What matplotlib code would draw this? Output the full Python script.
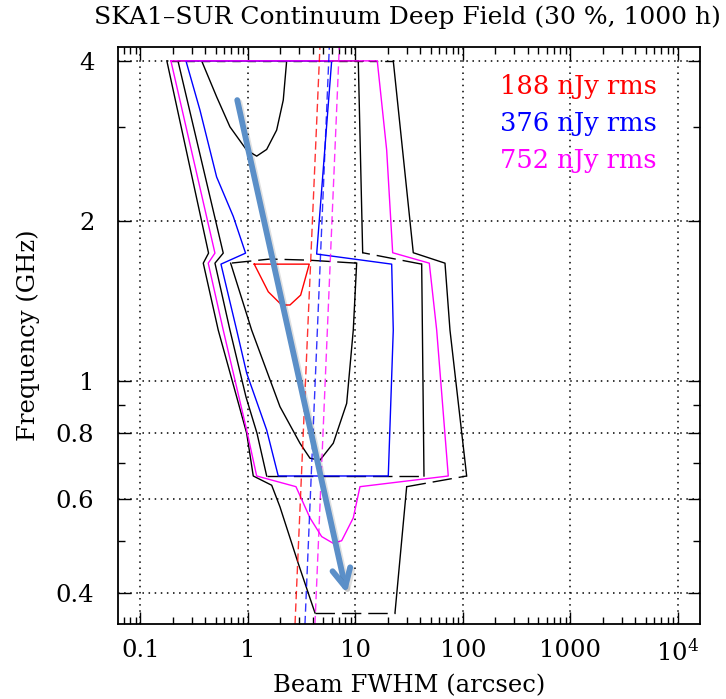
import matplotlib
matplotlib.use("Agg")
import matplotlib.pyplot as plt
import matplotlib.patheffects as pe
from matplotlib.ticker import FixedLocator, FixedFormatter, LogLocator, NullFormatter

plt.rcParams['font.family'] = 'DejaVu Serif'
plt.rcParams['mathtext.fontset'] = 'dejavuserif'

# ---- data: contours (beam FWHM arcsec, frequency GHz) ----
# outer black contour, split into solid and dashed pieces
outer_solid1_x = [23.31, 29.94]
outer_solid1_y = [0.3665, 0.633]
outer_dash1_x = [29.94, 108.2]
outer_dash1_y = [0.633, 0.663]
outer_solid2_x = [108.2, 75.68, 68.02, 34.49, 22.47]
outer_solid2_y = [0.663, 1.247, 1.666, 1.743, 4.0]
outer_top_x = [22.47, 0.176]
outer_top_y = [4.0, 4.0]
outer_solid3_x = [0.176, 0.43, 0.384, 0.529, 0.785, 0.9725, 1.12, 1.662, 1.985,
                  2.937, 4.201]
outer_solid3_y = [4.0, 1.74, 1.666, 1.247, 0.934, 0.798, 0.663, 0.637, 0.580,
                  0.454, 0.3665]
outer_dash2_x = [4.201, 23.31]
outer_dash2_y = [0.3665, 0.3665]

# second black contour
black2_solid1_x = [10.62, 0.2233, 0.589, 0.4932, 0.680, 0.958, 1.213, 1.493]
black2_solid1_y = [4.0, 4.0, 1.740, 1.666, 1.247, 0.934, 0.798, 0.663]
black2_dash1_x = [1.493, 43.38]
black2_dash1_y = [0.663, 0.663]
black2_solid2_x = [43.38, 41.29]
black2_solid2_y = [0.663, 1.659]
black2_dash2_x = [41.29, 11.67]
black2_dash2_y = [1.659, 1.743]
black2_solid3_x = [11.67, 10.62]
black2_solid3_y = [1.743, 4.0]

# inner black contours
innerA_x = [0.3709, 0.5114, 0.680, 0.9725, 1.205, 1.493, 1.849, 2.13, 2.291]
innerA_y = [4.0, 3.423, 3.006, 2.718, 2.648, 2.726, 2.964, 3.375, 4.0]
innerB_x = [0.6902, 1.082, 1.985, 3.045, 3.774, 4.674, 6.216, 8.284, 9.539, 10.26]
innerB_y = [1.666, 1.247, 0.895, 0.764, 0.716, 0.710, 0.764, 0.908, 1.247, 1.666]
innerB_top_x = [10.26, 3.639, 1.602, 0.6902]
innerB_top_y = [1.666, 1.688, 1.696, 1.666]

# 376 nJy (blue) contour
blue_x = [0.265, 0.358, 0.511, 0.73, 0.95, 0.561, 0.785, 0.9725, 1.493, 1.913,
          20.19, 22.47, 21.72, 4.356, 6.006, 0.265]
blue_y = [4.0, 3.23, 2.42, 2.04, 1.74, 1.659, 1.247, 1.035, 0.809, 0.663,
          0.663, 1.247, 1.659, 1.733, 4.0, 4.0]

# 752 nJy (magenta) contour
mag_x = [0.192, 0.493, 0.427, 0.589, 0.9725, 1.205, 2.796, 3.774, 4.848, 6.216,
         7.44, 9.539, 11.01, 72.97, 56.93, 48.6, 22.18, 19.51, 15.95, 0.192]
mag_y = [4.0, 1.74, 1.666, 1.247, 0.809, 0.663, 0.633, 0.553, 0.510, 0.4953,
         0.501, 0.553, 0.633, 0.663, 1.247, 1.666, 1.743, 2.718, 4.0, 4.0]

# 188 nJy (red) contour
red_x = [1.144, 3.717, 3.092, 2.459, 2.058, 1.545, 1.144]
red_y = [1.659, 1.659, 1.451, 1.390, 1.390, 1.472, 1.659]

# dashed reference lines
dash_freq = [0.349, 4.244]
red_dash = [2.74, 4.67]
blue_dash = [3.39, 5.71]
mag_dash = [4.20, 7.07]

# arrow
arrow_start = (0.795, 3.375)
arrow_end = (8.284, 0.399)

legend_labels = ['188 nJy rms', '376 nJy rms', '752 nJy rms']
legend_colors = ['red', 'blue', 'magenta']

x_major = [0.1, 1, 10, 100, 1000, 1e4]
x_labels = ['0.1', '1', '10', '100', '1000', '$10^4$']
y_major = [0.4, 0.6, 0.8, 1, 2, 4]
y_labels = ['0.4', '0.6', '0.8', '1', '2', '4']
y_minor = [0.5, 0.7, 0.9, 3]

# ---- figure ----
fig = plt.figure(figsize=(7.26, 6.99), dpi=100)
ax = fig.add_axes([0.1625, 0.107, 0.8017, 0.8255])
ax.set_xscale('log')
ax.set_yscale('log')

lw = 1.0
dsh = (14, 5)

ax.plot(outer_solid1_x, outer_solid1_y, color='black', lw=lw)
ax.plot(outer_dash1_x, outer_dash1_y, color='black', lw=lw, dashes=dsh)
ax.plot(outer_solid2_x, outer_solid2_y, color='black', lw=lw)
ax.plot(outer_top_x, outer_top_y, color='black', lw=lw, dashes=(6, 5))
ax.plot(outer_solid3_x, outer_solid3_y, color='black', lw=lw)
ax.plot(outer_dash2_x, outer_dash2_y, color='black', lw=lw, dashes=dsh)

ax.plot(black2_solid1_x, black2_solid1_y, color='black', lw=lw)
ax.plot(black2_dash1_x, black2_dash1_y, color='black', lw=lw, dashes=dsh)
ax.plot(black2_solid2_x, black2_solid2_y, color='black', lw=lw)
ax.plot(black2_dash2_x, black2_dash2_y, color='black', lw=lw, dashes=dsh)
ax.plot(black2_solid3_x, black2_solid3_y, color='black', lw=lw)

ax.plot(innerA_x, innerA_y, color='black', lw=lw)
ax.plot(innerB_x, innerB_y, color='black', lw=lw)
ax.plot(innerB_top_x, innerB_top_y, color='black', lw=lw, dashes=dsh)

ax.plot(blue_x, blue_y, color='blue', lw=lw)
ax.plot(mag_x, mag_y, color='magenta', lw=lw)
ax.plot(red_x, red_y, color='red', lw=lw)

ax.plot(red_dash, dash_freq, color='red', lw=lw, dashes=(6, 3), alpha=0.8)
ax.plot(blue_dash, dash_freq, color='blue', lw=lw, dashes=(6, 3), alpha=0.8)
ax.plot(mag_dash, dash_freq, color='magenta', lw=lw, dashes=(6, 3), alpha=0.8)

ax.annotate('', xy=arrow_end, xytext=arrow_start,
            arrowprops=dict(arrowstyle='->, head_length=1.3, head_width=0.65',
                            color='#5b8fc8', lw=4.2, shrinkA=0, shrinkB=0,
                            mutation_scale=10,
                            path_effects=[pe.SimpleLineShadow(offset=(1.5, -1.5), alpha=0.12),
                                          pe.Normal()]))

for i, (lab, col) in enumerate(zip(legend_labels, legend_colors)):
    ax.text(0.656, 0.931 - i * 0.0635, lab, color=col, fontsize=18.5,
            transform=ax.transAxes, va='center', ha='left')

ax.set_xlim(0.0618, 16020)
ax.set_ylim(0.349, 4.244)

ax.xaxis.set_major_locator(FixedLocator(x_major))
ax.xaxis.set_major_formatter(FixedFormatter(x_labels))
ax.xaxis.set_minor_locator(LogLocator(base=10, subs=range(2, 10)))
ax.xaxis.set_minor_formatter(NullFormatter())
ax.yaxis.set_major_locator(FixedLocator(y_major))
ax.yaxis.set_major_formatter(FixedFormatter(y_labels))
ax.yaxis.set_minor_locator(FixedLocator(y_minor))
ax.yaxis.set_minor_formatter(NullFormatter())

ax.tick_params(which='both', direction='in', top=True, right=True, labelsize=17.5)
ax.tick_params(which='major', length=9, width=1)
ax.tick_params(which='minor', length=5, width=1)
ax.tick_params(axis='x', which='major', pad=11)
ax.tick_params(axis='y', which='major', pad=17)
for s in ax.spines.values():
    s.set_linewidth(1.3)

ax.grid(True, which='major', color='black', linestyle=(0, (1, 3)), lw=1.1)

ax.set_xlabel('Beam FWHM (arcsec)', fontsize=17.5)
ax.xaxis.set_label_coords(0.5, -0.106)
ax.xaxis.label.set_verticalalignment('center')
ax.set_ylabel('Frequency (GHz)', fontsize=17.5)
ax.yaxis.set_label_coords(-0.155, 0.5)
ax.yaxis.label.set_verticalalignment('center')

fig.text(407 / 726, 1 - 17 / 699, 'SKA1\u2013SUR Continuum Deep Field (30 %, 1000 h)',
         fontsize=18, ha='center', va='center')

fig.savefig('out.png', dpi=100)
